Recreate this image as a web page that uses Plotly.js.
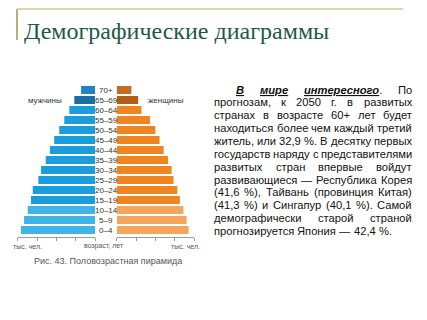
<!DOCTYPE html>
<html>
<head>
<meta charset="utf-8">
<script src="https://cdn.plot.ly/plotly-3.0.1.min.js"></script>
<style>html,body{margin:0;padding:0;background:#fff;}#chart{width:427px;height:320px;}</style>
</head>
<body>
<div id="chart"></div>
<script>
// ---- data ----
const ageGroups = ["0–4","5–9","10–14","15–19","20–24","25–29","30–34","35–39","40–44","45–49","50–54","55–59","60–64","65–69","70+"];
const maleValues = [383,367,348,331,322,293,279,255,233,211,185,159,133,107,72];
const femaleValues = [372,362,345,327,314,294,284,266,243,222,200,173,128,111,76];
const maleColors = ["#3fb4e8","#3fb4e8","#3fb4e8","#1a9ddd","#1a9ddd","#1a9ddd","#1a9ddd","#1a9ddd","#1a9ddd","#1a9ddd","#1a9ddd","#1a9ddd","#1a9ddd","#176fa6","#1f82c2"];
const femaleColors = ["#f5a55c","#f5a55c","#f5a55c","#f0841f","#f0841f","#f0841f","#f0841f","#f0841f","#f0841f","#f0841f","#f0841f","#f0841f","#f0841f","#b35e18","#c96b1e"];
const axisTicks = [0,100,200,300,400];

const titleText = "Демографические диаграммы";
const maleLabel = "мужчины";
const femaleLabel = "женщины";
const unitLabel = "тыс. чел.";
const ageAxisLabel = "возраст, лет";
const captionText = "Рис. 43. Половозрастная пирамида";
const paragraphLines = [
  "*В* *мире* *интересного*. По",
  "прогнозам, к 2050 г. в развитых",
  "странах в возрасте 60+ лет будет",
  "находиться более чем каждый третий",
  "житель, или 32,9 %. В десятку первых",
  "государств наряду с представителями",
  "развитых стран впервые войдут",
  "развивающиеся — Республика Корея",
  "(41,6 %), Тайвань (провинция Китая)",
  "(41,3 %) и Сингапур (40,1 %). Самой",
  "демографически старой страной",
  "прогнозируется Япония — 42,4 %."
];

// ---- helpers ----
const W = 427, H = 320;
const px = x => x / W;
const py = y => 1 - y / H;

const traces = [
  {type:'bar', orientation:'h', x:maleValues, y:ageGroups, xaxis:'x', yaxis:'y',
   marker:{color:maleColors, line:{width:0}}, hoverinfo:'none'},
  {type:'bar', orientation:'h', x:femaleValues, y:ageGroups, xaxis:'x2', yaxis:'y',
   marker:{color:femaleColors, line:{width:0}}, hoverinfo:'none'}
];

const axisCommon = {
  tickvals: axisTicks, showticklabels:false, ticks:'outside', ticklen:3, tickwidth:1,
  tickcolor:'#9a9a9a', showline:true, linecolor:'#9a9a9a', linewidth:1,
  showgrid:false, zeroline:false, anchor:'y', fixedrange:true
};

const annotations = [];
const sans = 'Liberation Sans, Arial, sans-serif';

// age labels in the middle
ageGroups.forEach(g => annotations.push({
  xref:'paper', yref:'y', x:px(106), y:g, text:g, showarrow:false,
  xanchor:'center', yanchor:'middle', borderpad:0, borderwidth:0,
  font:{family:sans, size:8, color:'#333'}
}));

function label(text, x, y, size, color, family, xanchor) {
  annotations.push({xref:'paper', yref:'paper', x:px(x), y:py(y), text:text, showarrow:false,
    xanchor:xanchor||'center', yanchor:'middle', borderpad:0, borderwidth:0,
    font:{family:family, size:size, color:color}});
}
label(maleLabel, 45, 100, 8, '#333', sans);
label(femaleLabel, 165.5, 100, 8, '#333', sans);
label(unitLabel, 27, 246, 7, '#555', sans);
label(ageAxisLabel, 103.5, 246, 7, '#555', sans);
label(unitLabel, 185, 246, 7, '#555', sans);
label(captionText, 107.5, 261, 9, '#555', sans);
label(titleText, 24, 31, 24, '#1d5a46', 'Liberation Serif, DejaVu Serif, serif', 'left');

// justified paragraph
const canvas = document.createElement('canvas');
const ctx = canvas.getContext('2d');
function measure(t, bold, italic, size) {
  ctx.font = (italic ? 'italic ' : '') + (bold ? 'bold ' : '') + size + 'px "Liberation Sans", Arial, sans-serif';
  return ctx.measureText(t).width;
}
function tokenize(line, size) {
  return line.split(' ').map(tok => {
    const m = tok.match(/^\*(.+)\*(.*)$/);
    if (m) {
      return {html:'<b><i><u>' + m[1] + '</u></i></b>' + m[2],
              w: measure(m[1], true, true, size) + measure(m[2], false, false, size)};
    }
    return {html:tok, w:measure(tok, false, false, size)};
  });
}
const textLeft = 214, textRight = 412, indent = 236;
let fs = 11.4;
for (let k = 0; k < 20; k++) {
  let ok = true;
  paragraphLines.forEach((ln, i) => {
    const toks = tokenize(ln, fs);
    const start = i === 0 ? indent : textLeft;
    const nat = toks.reduce((a, t) => a + t.w, 0) + (toks.length - 1) * measure(' ', false, false, fs) * 0.8;
    if (nat > textRight - start) ok = false;
  });
  if (ok) break;
  fs -= 0.1;
}
paragraphLines.forEach((ln, i) => {
  const toks = tokenize(ln, fs);
  const start = i === 0 ? indent : textLeft;
  const yc = 89.5 + i * 12.86;
  const last = i === paragraphLines.length - 1;
  const sum = toks.reduce((a, t) => a + t.w, 0);
  const gap = last ? measure(' ', false, false, fs) : (textRight - start - sum) / (toks.length - 1);
  let x = start;
  toks.forEach(t => {
    annotations.push({xref:'paper', yref:'paper', x:px(x), y:py(yc), text:t.html, showarrow:false,
      xanchor:'left', yanchor:'middle', borderpad:0, borderwidth:0,
      font:{family:sans, size:fs, color:'#111'}});
    x += t.w + gap;
  });
});

const layout = {
  width:W, height:H, margin:{l:0, r:0, t:0, b:0},
  paper_bgcolor:'#fff', plot_bgcolor:'rgba(0,0,0,0)', showlegend:false,
  bargap:0.2,
  xaxis:Object.assign({}, axisCommon, {domain:[px(17.7), px(95)], range:[400, 0]}),
  xaxis2:Object.assign({}, axisCommon, {domain:[px(116.7), px(194)], range:[0, 400]}),
  yaxis:{domain:[py(237), py(85)], range:[-0.7, 14.5], type:'category', categoryarray:ageGroups,
         visible:false, fixedrange:true},
  shapes:[
    {type:'line', xref:'paper', yref:'paper', x0:px(17), x1:px(403), y0:py(9), y1:py(9),
     line:{color:'#d3c69e', width:1.5}},
    {type:'line', xref:'paper', yref:'paper', x0:px(17), x1:px(17), y0:py(9), y1:py(40),
     line:{color:'#bfae74', width:2}}
  ],
  annotations:annotations
};

Plotly.newPlot('chart', traces, layout, {staticPlot:true, displayModeBar:false});
</script>
</body>
</html>
